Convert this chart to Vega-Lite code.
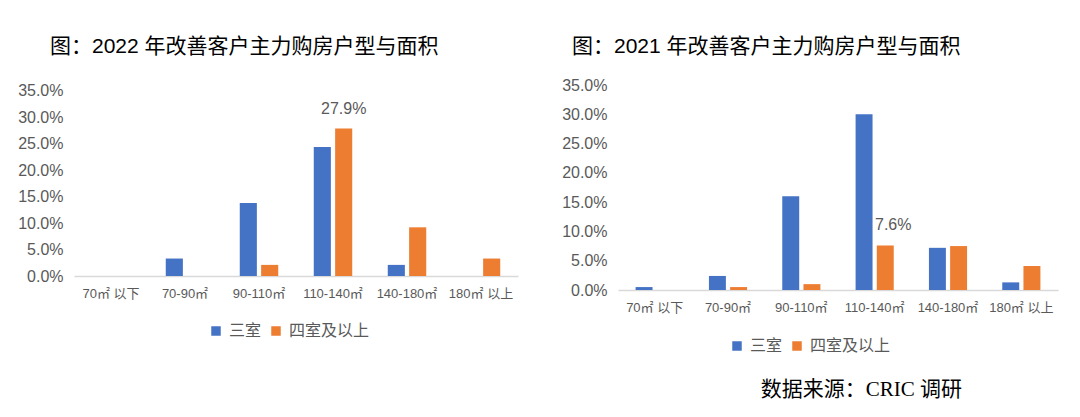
{
  "$schema": "https://vega.github.io/schema/vega-lite/v6.json",
  "padding": {"left": 17, "top": 35, "right": 10, "bottom": 10},
  "background": "white",
  "config": {
    "view": {"stroke": null},
    "font": "Liberation Sans, Noto Sans CJK SC",
    "axisX": {"labelAngle": 0, "title": null, "ticks": false, "domainColor": "#D9D9D9", "domainWidth": 1.5, "labelColor": "#595959", "labelFontSize": 13, "labelPadding": 11, "grid": false},
    "axisY": {"title": null, "ticks": false, "domain": false, "grid": false, "labelColor": "#595959", "labelFontSize": 16, "labelPadding": 11, "labelOverlap": false},
    "legend": {"orient": "none", "direction": "horizontal", "title": null, "symbolType": "square", "symbolSize": 90, "labelFontSize": 16, "labelColor": "#595959", "columnPadding": 6, "labelOffset": 5, "symbolStrokeWidth": 0}
  },
  "datasets": {
    "d": [
      {"year": 2022, "area": "70㎡  以下", "type": "三室", "value": 0},
      {"year": 2022, "area": "70㎡  以下", "type": "四室及以上", "value": 0},
      {"year": 2022, "area": "70-90㎡", "type": "三室", "value": 0.033},
      {"year": 2022, "area": "70-90㎡", "type": "四室及以上", "value": 0},
      {"year": 2022, "area": "90-110㎡", "type": "三室", "value": 0.138},
      {"year": 2022, "area": "90-110㎡", "type": "四室及以上", "value": 0.021},
      {"year": 2022, "area": "110-140㎡", "type": "三室", "value": 0.244},
      {"year": 2022, "area": "110-140㎡", "type": "四室及以上", "value": 0.279, "label": true},
      {"year": 2022, "area": "140-180㎡", "type": "三室", "value": 0.021},
      {"year": 2022, "area": "140-180㎡", "type": "四室及以上", "value": 0.092},
      {"year": 2022, "area": "180㎡  以上", "type": "三室", "value": 0},
      {"year": 2022, "area": "180㎡  以上", "type": "四室及以上", "value": 0.033},
      {"year": 2021, "area": "70㎡  以下", "type": "三室", "value": 0.005},
      {"year": 2021, "area": "70㎡  以下", "type": "四室及以上", "value": 0},
      {"year": 2021, "area": "70-90㎡", "type": "三室", "value": 0.024},
      {"year": 2021, "area": "70-90㎡", "type": "四室及以上", "value": 0.005},
      {"year": 2021, "area": "90-110㎡", "type": "三室", "value": 0.160},
      {"year": 2021, "area": "90-110㎡", "type": "四室及以上", "value": 0.010},
      {"year": 2021, "area": "110-140㎡", "type": "三室", "value": 0.300},
      {"year": 2021, "area": "110-140㎡", "type": "四室及以上", "value": 0.076, "label": true},
      {"year": 2021, "area": "140-180㎡", "type": "三室", "value": 0.072},
      {"year": 2021, "area": "140-180㎡", "type": "四室及以上", "value": 0.075},
      {"year": 2021, "area": "180㎡  以上", "type": "三室", "value": 0.013},
      {"year": 2021, "area": "180㎡  以上", "type": "四室及以上", "value": 0.041}
    ]
  },
  "title": {"text": "数据来源：CRIC 调研", "orient": "bottom", "anchor": "end", "fontSize": 21, "font": "Liberation Serif, Noto Sans CJK SC", "fontWeight": "normal", "color": "#000000", "offset": 25, "dx": -96},
  "spacing": 43,
  "resolve": {"scale": {"color": "independent", "x": "independent", "y": "independent", "xOffset": "independent"}, "legend": {"color": "independent"}},
  "hconcat": [
    {
      "width": 444,
      "height": 191,
      "title": {"text": "图：2022 年改善客户主力购房户型与面积", "anchor": "start", "frame": "group", "dx": -24, "offset": 26, "fontSize": 21, "font": "Liberation Sans, Noto Sans CJK SC", "fontWeight": "normal", "color": "#000000"},
      "data": {"name": "d"},
      "transform": [{"filter": "datum.year == 2022"}],
      "encoding": {
        "x": {"field": "area", "type": "nominal", "sort": ["70㎡  以下", "70-90㎡", "90-110㎡", "110-140㎡", "140-180㎡", "180㎡  以上"], "scale": {"paddingInner": 0.48, "paddingOuter": 0.24}},
        "xOffset": {"field": "type", "type": "nominal", "sort": ["三室", "四室及以上"], "scale": {"paddingInner": 0.2}},
        "y": {"field": "value", "type": "quantitative", "scale": {"domain": [0, 0.361], "nice": false}, "axis": {"format": ".1%", "values": [0, 0.05, 0.1, 0.15, 0.2, 0.25, 0.3, 0.35]}}
      },
      "layer": [
        {
          "mark": {"type": "bar"},
          "encoding": {
            "color": {"field": "type", "type": "nominal", "scale": {"domain": ["三室", "四室及以上"], "range": ["#4472C4", "#ED7D31"]}, "legend": {"legendX": 134, "legendY": 238}}
          }
        },
        {
          "transform": [{"filter": "datum.label"}],
          "mark": {"type": "text", "baseline": "bottom", "dy": -11, "fontSize": 16, "color": "#595959"},
          "encoding": {"text": {"field": "value", "type": "quantitative", "format": ".1%"}}
        }
      ]
    },
    {
      "width": 440,
      "height": 205,
      "title": {"text": "图：2021 年改善客户主力购房户型与面积", "anchor": "start", "frame": "group", "dx": -46, "offset": 20, "fontSize": 21, "font": "Liberation Sans, Noto Sans CJK SC", "fontWeight": "normal", "color": "#000000"},
      "data": {"name": "d"},
      "transform": [{"filter": "datum.year == 2021"}],
      "encoding": {
        "x": {"field": "area", "type": "nominal", "sort": ["70㎡  以下", "70-90㎡", "90-110㎡", "110-140㎡", "140-180㎡", "180㎡  以上"], "scale": {"paddingInner": 0.48, "paddingOuter": 0.24}},
        "xOffset": {"field": "type", "type": "nominal", "sort": ["三室", "四室及以上"], "scale": {"paddingInner": 0.2}},
        "y": {"field": "value", "type": "quantitative", "scale": {"domain": [0, 0.35], "nice": false}, "axis": {"format": ".1%", "values": [0, 0.05, 0.1, 0.15, 0.2, 0.25, 0.3, 0.35]}}
      },
      "layer": [
        {
          "mark": {"type": "bar"},
          "encoding": {
            "color": {"field": "type", "type": "nominal", "scale": {"domain": ["三室", "四室及以上"], "range": ["#4472C4", "#ED7D31"]}, "legend": {"legendX": 111, "legendY": 253}}
          }
        },
        {
          "transform": [{"filter": "datum.label"}],
          "mark": {"type": "text", "baseline": "bottom", "dy": -12, "dx": 8, "fontSize": 16, "color": "#595959"},
          "encoding": {"text": {"field": "value", "type": "quantitative", "format": ".1%"}}
        }
      ]
    }
  ]
}
